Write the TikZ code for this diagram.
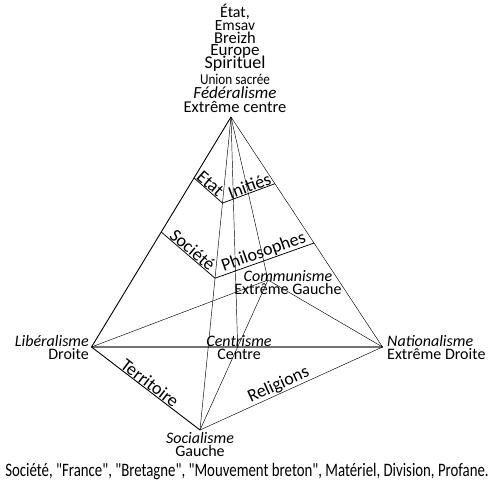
\documentclass[tikz,border=0pt]{standalone}
\usepackage{fontspec}
\setmainfont{Carlito}
\newfontfamily\condfont[FakeStretch=0.78]{Carlito}
\newfontfamily\semicondfont[FakeStretch=0.88]{Carlito}
\usetikzlibrary{positioning,calc}
\tikzset{
  edge/.style={black,line width=0.45pt},
  frontedge/.style={black,line width=0.9pt},
  cutedge/.style={black,line width=0.75pt},
  axisline/.style={black!55,line width=1.3pt},
  vlabel/.style={font=\fontsize{16}{13}\selectfont,inner sep=0pt},
  cutlabel/.style={font=\fontsize{18}{18}\selectfont,inner sep=0.5pt,midway,above,sloped},
  toplabel/.style={inner sep=0pt}
}
\begin{document}
\begin{tikzpicture}[x=1pt,y=1pt]
  \useasboundingbox (0,0) rectangle (494,-486);
  % vertices of the pyramid
  \coordinate (apex) at (231,-117);
  \coordinate (lib) at (91.5,-347);
  \coordinate (nat) at (382.5,-347);
  \coordinate (soc) at (200,-430);
  \coordinate (com) at (268,-280);
  \coordinate (cen) at (intersection of lib--nat and soc--com);
  % cuts
  \coordinate (e1) at ($(apex)!0.265!(lib)$);
  \coordinate (e2) at ($(apex)!0.275!(soc)$);
  \coordinate (e3) at ($(apex)!0.29!(nat)$);
  \coordinate (s1) at ($(apex)!0.5!(lib)$);
  \coordinate (s2) at ($(apex)!0.515!(soc)$);
  \coordinate (s3) at ($(apex)!0.548!(nat)$);
  % edges
  \draw[axisline] (lib) -- (nat);
  \draw[edge] (lib) -- (com) -- (nat);
  \draw[edge] (soc) -- (com);
  \draw[edge] (apex) -- (soc);
  \draw[edge] (apex) -- (cen);
  \draw[edge] (apex) -- (com);
  \draw[edge] (apex) -- (nat);
  \draw[edge] (soc) -- (nat);
  \draw[frontedge] (apex) -- (lib) -- (soc);
  \draw[cutedge] (e1) -- (e2) -- (e3);
  \draw[cutedge] (s1) -- (s2) -- (s3);
  % labels on the cuts and base
  \path (e1) -- (e2) node[cutlabel,pos=0.42] (etatlbl) {Etat};
  \path (e2) -- (e3) node[cutlabel,pos=0.56] (initlbl) {Initiés};
  \path (s1) -- (s2) node[cutlabel] (soclbl) {Société};
  \path (s2) -- (s3) node[cutlabel,pos=0.52] (philbl) {Philosophes};
  \path (lib) -- (soc) node[cutlabel] (terlbl) {Territoire};
  \path (soc) -- (nat) node[cutlabel,pos=0.45] (rellbl) {Religions};
  % vertex labels
  \node[vlabel,anchor=east,align=right] (libtxt) at (89,-347.5) {\textit{Libéralisme}\\Droite};
  \node[vlabel,anchor=west,align=left] (nattxt) at (387,-347.5) {\textit{Nationalisme}\\Extrême Droite};
  \node[vlabel,align=center] (centxt) at (239,-347.5) {\textit{Centrisme}\\Centre};
  \node[vlabel,align=center] (soctxt) at (200,-444.5) {\textit{Socialisme}\\Gauche};
  \node[vlabel,align=center] (comtxt) at (288,-283) {\textit{Communisme}\\Extrême Gauche};
  % top stack
  \node[toplabel,font=\fontsize{16}{16}\selectfont] (etat) at (235,-12) {État,};
  \node[toplabel,font=\fontsize{15.5}{15}\selectfont] (emsav) at (235,-25.5) {Emsav};
  \node[toplabel,font=\fontsize{16.5}{16}\selectfont] (breizh) at (235,-38) {Breizh};
  \node[toplabel,font=\fontsize{17}{17}\selectfont] (europe) at (235,-51) {Europe};
  \node[toplabel,font=\fontsize{18}{18}\selectfont] (spirit) at (235,-64) {Spirituel};
  \node[toplabel,font=\semicondfont\fontsize{15}{15}\selectfont] (union) at (235,-79) {Union sacrée};
  \node[toplabel,font=\fontsize{17}{17}\selectfont\itshape] (fede) at (235,-92.5) {Fédéralisme};
  \node[toplabel,font=\fontsize{16.5}{16}\selectfont] (extc) at (235,-107) {Extrême centre};
  % bottom line
  \node[toplabel,font=\condfont\fontsize{19}{19}\selectfont] (bottom) at (247,-472) {Société, "France", "Bretagne", "Mouvement breton", Matériel, Division, Profane.};
\end{tikzpicture}
\end{document}
